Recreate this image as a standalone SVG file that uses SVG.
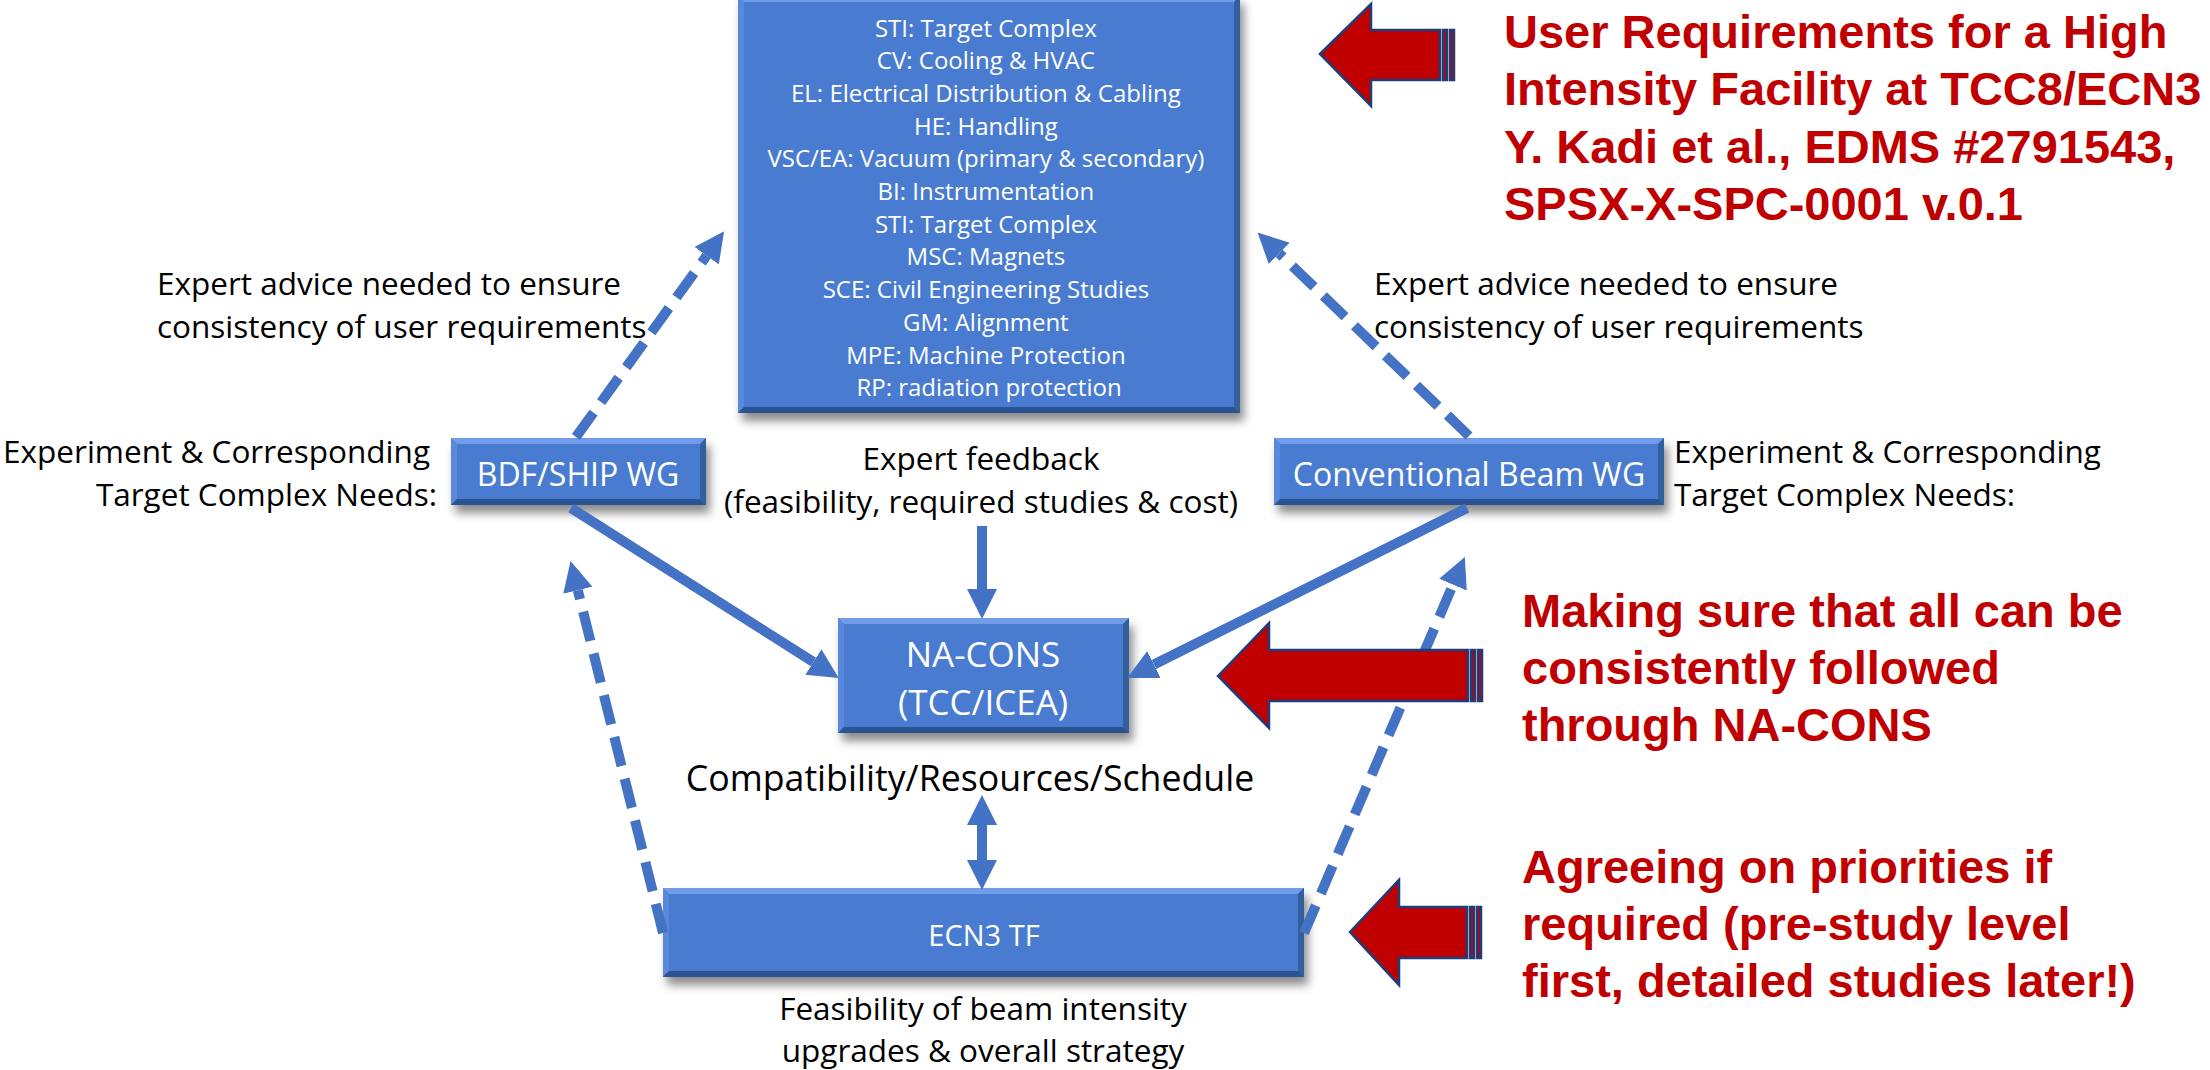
<svg xmlns="http://www.w3.org/2000/svg" width="2210" height="1070" viewBox="0 0 2210 1070">
<style>
.box{fill:#4a7bd0}
.bt{fill:#6f9ce8}
.bl{fill:#5a88da}
.br{fill:#33609f}
.bb{fill:#2b5293}
.wt{font-family:"Open Sans","Liberation Sans",sans-serif;fill:#fff;text-anchor:middle}
.lbl{font-family:"Open Sans","Liberation Sans",sans-serif;fill:#000;font-size:31.5px}
.big{font-size:35.7px}
.red{font-family:"Liberation Sans",Arial,sans-serif;font-weight:bold;fill:#c00000;font-size:47px}
.ln{stroke:#4472c4;stroke-width:10;fill:none}
.dash{stroke-dasharray:30 13}
.ra{fill:#c00000;stroke:#1f3d7a;stroke-width:2.5;stroke-linejoin:miter}
</style>
<defs>
<filter id="sh" x="-10%" y="-10%" width="125%" height="140%">
<feDropShadow dx="4" dy="8" stdDeviation="5" flood-color="#000" flood-opacity="0.45"/>
</filter>
<marker id="ah" viewBox="0 0 30 30" refX="0" refY="15" markerWidth="30" markerHeight="30" markerUnits="userSpaceOnUse" orient="auto-start-reverse">
<path d="M0,0 L30,15 L0,30 z" fill="#4472c4"/>
</marker>
</defs>
<rect width="2210" height="1070" fill="#fff"/>

<g id="node-services">
<g filter="url(#sh)">
<rect class="box" x="738" y="-4" width="502" height="417"/>
<polygon class="bt" points="738,-4 1240,-4 1234,2 744,2"/>
<polygon class="bl" points="738,-4 744,2 744,407 738,413"/>
<polygon class="br" points="1240,-4 1240,413 1234,407 1234,2"/>
<polygon class="bb" points="738,413 1240,413 1234,407 744,407"/>
</g>
<text class="wt" font-size="24" x="989">
<tspan x="989" y="36.5">STI: Target Complex</tspan>
<tspan x="989" y="69.2">CV: Cooling &amp; HVAC</tspan>
<tspan x="989" y="101.9">EL: Electrical Distribution &amp; Cabling</tspan>
<tspan x="989" y="134.6">HE: Handling</tspan>
<tspan x="989" y="167.3">VSC/EA: Vacuum (primary &amp; secondary)</tspan>
<tspan x="989" y="200">BI: Instrumentation</tspan>
<tspan x="989" y="232.7">STI: Target Complex</tspan>
<tspan x="989" y="265.4">MSC: Magnets</tspan>
<tspan x="989" y="298.1">SCE: Civil Engineering Studies</tspan>
<tspan x="989" y="330.8">GM: Alignment</tspan>
<tspan x="989" y="363.5">MPE: Machine Protection</tspan>
<tspan x="989" y="396.2">RP: radiation protection</tspan>
</text>
</g>

<g id="node-bdf">
<g filter="url(#sh)">
<rect class="box" x="451" y="438" width="255" height="67"/>
<polygon class="bt" points="451,438 706,438 700,444 457,444"/>
<polygon class="bl" points="451,438 457,444 457,499 451,505"/>
<polygon class="br" points="706,438 706,505 700,499 700,444"/>
<polygon class="bb" points="451,505 706,505 700,499 457,499"/>
</g>
<text class="wt" font-size="32" x="578" y="486">BDF/SHIP WG</text>
</g>

<g id="node-conv">
<g filter="url(#sh)">
<rect class="box" x="1274" y="438" width="390" height="67"/>
<polygon class="bt" points="1274,438 1664,438 1658,444 1280,444"/>
<polygon class="bl" points="1274,438 1280,444 1280,499 1274,505"/>
<polygon class="br" points="1664,438 1664,505 1658,499 1658,444"/>
<polygon class="bb" points="1274,505 1664,505 1658,499 1280,499"/>
</g>
<text class="wt" font-size="32" x="1469" y="486">Conventional Beam WG</text>
</g>

<g id="node-nacons">
<g filter="url(#sh)">
<rect class="box" x="838" y="618" width="291" height="115"/>
<polygon class="bt" points="838,618 1129,618 1123,624 844,624"/>
<polygon class="bl" points="838,618 844,624 844,727 838,733"/>
<polygon class="br" points="1129,618 1129,733 1123,727 1123,624"/>
<polygon class="bb" points="838,733 1129,733 1123,727 844,727"/>
</g>
<text class="wt" font-size="35" x="983"><tspan x="983" y="667">NA-CONS</tspan><tspan x="983" y="715">(TCC/ICEA)</tspan></text>
</g>

<g id="node-ecn3">
<g filter="url(#sh)">
<rect class="box" x="663" y="888" width="641" height="89"/>
<polygon class="bt" points="663,888 1304,888 1298,894 669,894"/>
<polygon class="bl" points="663,888 669,894 669,971 663,977"/>
<polygon class="br" points="1304,888 1304,977 1298,971 1298,894"/>
<polygon class="bb" points="663,977 1304,977 1298,971 669,971"/>
</g>
<text class="wt" font-size="29" x="984" y="946">ECN3 TF</text>
</g>

<g id="connectors">
<line class="ln dash" x1="576" y1="437" x2="706.6" y2="255.7" marker-end="url(#ah)"/>
<line class="ln dash" x1="1469" y1="436" x2="1279.2" y2="253.4" marker-end="url(#ah)"/>
<line class="ln" x1="571" y1="508" x2="813.4" y2="662" marker-end="url(#ah)"/>
<line class="ln" x1="1467" y1="508" x2="1154" y2="664.5" marker-end="url(#ah)"/>
<line class="ln" x1="982" y1="526" x2="982" y2="589" marker-end="url(#ah)"/>
<line class="ln" x1="982" y1="825" x2="982" y2="860" marker-start="url(#ah)" marker-end="url(#ah)"/>
<line class="ln dash" x1="663" y1="933" x2="577.8" y2="590.2" marker-end="url(#ah)"/>
<line class="ln dash" x1="1304" y1="933" x2="1453" y2="584.7" marker-end="url(#ah)"/>
</g>

<g id="labels">
<text class="lbl"><tspan x="157" y="295">Expert advice needed to ensure</tspan><tspan x="157" y="338">consistency of user requirements</tspan></text>
<text class="lbl"><tspan x="1374" y="295">Expert advice needed to ensure</tspan><tspan x="1374" y="338">consistency of user requirements</tspan></text>
<text class="lbl" text-anchor="end"><tspan x="430" y="463">Experiment &amp; Corresponding</tspan><tspan x="437" y="506">Target Complex Needs:</tspan></text>
<text class="lbl"><tspan x="1674" y="463">Experiment &amp; Corresponding</tspan><tspan x="1674" y="506">Target Complex Needs:</tspan></text>
<text class="lbl" text-anchor="middle"><tspan x="981" y="470">Expert feedback</tspan><tspan x="981" y="513">(feasibility, required studies &amp; cost)</tspan></text>
<text class="lbl big" text-anchor="middle" x="970" y="791">Compatibility/Resources/Schedule</text>
<text class="lbl" text-anchor="middle"><tspan x="983" y="1020">Feasibility of beam intensity</tspan><tspan x="983" y="1062">upgrades &amp; overall strategy</tspan></text>
</g>

<g id="red-arrows">
<polygon class="ra" points="1320,54 1371,4 1371,30 1440,30 1440,80 1371,80 1371,106"/>
<rect class="ra" x="1443" y="30" width="4" height="50"/>
<rect class="ra" x="1450" y="30" width="4" height="50"/>
<polygon class="ra" points="1218,676 1269,623 1269,650 1468,650 1468,701 1269,701 1269,728"/>
<rect class="ra" x="1471" y="650" width="4" height="51"/>
<rect class="ra" x="1478" y="650" width="4" height="51"/>
<polygon class="ra" points="1350,932 1399,880 1399,907 1467,907 1467,958 1399,958 1399,985"/>
<rect class="ra" x="1470" y="907" width="4" height="51"/>
<rect class="ra" x="1477" y="907" width="4" height="51"/>
</g>

<g id="notes">
<text class="red"><tspan x="1504" y="48">User Requirements for a High</tspan><tspan x="1504" y="105">Intensity Facility at TCC8/ECN3</tspan><tspan x="1504" y="163">Y. Kadi et al., EDMS #2791543,</tspan><tspan x="1504" y="220">SPSX-X-SPC-0001 v.0.1</tspan></text>
<text class="red"><tspan x="1522" y="627">Making sure that all can be</tspan><tspan x="1522" y="684">consistently followed</tspan><tspan x="1522" y="741">through NA-CONS</tspan></text>
<text class="red"><tspan x="1522" y="883">Agreeing on priorities if</tspan><tspan x="1522" y="940">required (pre-study level</tspan><tspan x="1522" y="997">first, detailed studies later!)</tspan></text>
</g>
</svg>
